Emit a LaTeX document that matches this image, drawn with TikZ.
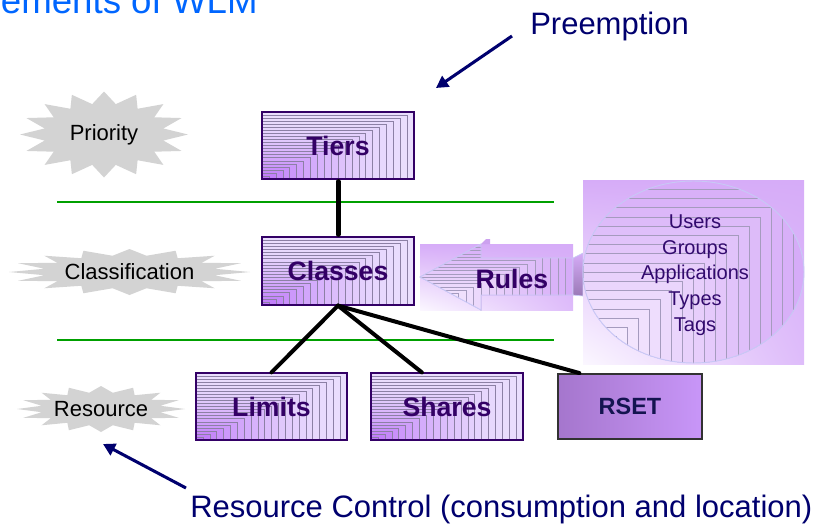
\documentclass[tikz,border=0pt]{standalone}
\usepackage{fontspec}
\setmainfont{Liberation Sans}
\usetikzlibrary{calc,arrows.meta,shadings}

\definecolor{titleblue}{RGB}{0,102,255}
\definecolor{navyink}{RGB}{0,0,110}
\definecolor{burstgray}{RGB}{211,211,211}
\definecolor{sepgreen}{RGB}{0,160,0}
\definecolor{boxedge}{RGB}{51,0,102}
\definecolor{boxtext}{RGB}{51,0,102}
\definecolor{boxlite}{RGB}{234,222,253}
\definecolor{boxdeep}{RGB}{190,120,250}
\definecolor{stepline}{RGB}{140,128,165}
\definecolor{softtop}{RGB}{214,172,248}
\definecolor{softlow}{RGB}{251,247,255}
\definecolor{softright}{RGB}{222,188,250}
\definecolor{softline}{RGB}{165,155,190}
\definecolor{lavline}{RGB}{200,200,245}
\definecolor{rsetA}{RGB}{165,118,205}
\definecolor{rsetB}{RGB}{200,150,248}
\definecolor{rsetedge}{RGB}{50,50,50}
\definecolor{rsettext}{RGB}{20,20,80}
\definecolor{attrtext}{RGB}{50,10,110}

% jagged callout shape around a centre, given half width and half height
\newcommand\drawburst[3]{%
  \fill[burstfill, shift={#1}] plot[samples at={0,...,31}, variable=\k]
    ({(mod(\k,2)==0 ? 1 : 0.72)*#2*cos(\k*11.25)},
     {(mod(\k,2)==0 ? 1 : 0.72)*#3*sin(\k*11.25)}) -- cycle;}

% stepped corner gradient: nested rectangles sharing the lower left corner
\newcommand\softsteps[4]{%
  \foreach \i in {0,...,19}{%
    \pgfmathsetmacro\fr{1-\i/20}%
    \pgfmathtruncatemacro\pc{100-\i*5}%
    \path[fill=softtop!\pc!softlow, draw=softline, line width=0.3pt]
      (#1,#2) rectangle ({#1+#3*\fr},{#2-#4*\fr});
  }}

\begin{document}
\begin{tikzpicture}[x=0.75pt,y=-0.75pt,
  burstfill/.style={fill=burstgray},
  burstlabel/.style={font=\fontsize{16.5}{19}\selectfont, text=black, inner sep=0pt},
  sepline/.style={draw=sepgreen, line width=1.5pt},
  wbox/.style={rectangle, draw=boxedge, line width=0.9pt, inner sep=0pt,
    text=boxtext, font=\fontsize{20}{24}\selectfont\bfseries,
    path picture={
      \foreach \i in {0,...,21}{
        \pgfmathtruncatemacro\pc{100-100*(\i/21)^1.8}
        \pgfmathsetmacro\fr{1-\i/22}
        \path[fill=boxlite!\pc!boxdeep, draw=stepline, line width=0.3pt]
          (path picture bounding box.south west) rectangle
          ($(path picture bounding box.south west)!\fr!(path picture bounding box.north east)$);
      }}},
  link/.style={draw=black, line width=3pt, line cap=round},
  pointer/.style={draw=navyink, line width=2.3pt, -{Triangle[length=9pt,width=9.5pt]}},
  callout/.style={text=navyink, font=\fontsize{23.25}{28}\selectfont, anchor=base west, inner sep=0pt}]

\useasboundingbox (0,0) rectangle (833,525);
\clip (0,0) rectangle (833,525);

% heading
\node[anchor=base west, inner sep=0pt, text=titleblue,
      font=\fontsize{27.5}{32}\selectfont] (title) at (-32,13) {Elements of WLM};

% layer separators
\draw[sepline] (57,202) -- (554,202);
\draw[sepline] (57,340) -- (554,340);

% layer callouts
\coordinate (prioC) at (104,134.5);
\coordinate (clasC) at (129.5,272);
\coordinate (resoC) at (101,409);
\drawburst{(prioC)}{84}{43}
\drawburst{(clasC)}{120.5}{23}
\drawburst{(resoC)}{84}{23}
\node[burstlabel] (prio) at (prioC) {Priority};
\node[burstlabel] (clas) at (clasC) {Classification};
\node[burstlabel] (reso) at (resoC) {Resource};

% rules arrow
\shade[upper left=softtop, upper right=softtop, lower left=softlow, lower right=softright]
  (420,244) rectangle (573,310);
\begin{scope}
  \clip (420,277) -- (481,244) -- (481,258) -- (573,258) -- (573,295)
        -- (481,295) -- (481,310) -- cycle;
  \softsteps{420}{310}{153}{66}
\end{scope}
\draw[lavline, line width=0.7pt] (420,277) -- (481,244) -- (481,258) -- (573,258)
  -- (573,295) -- (481,295) -- (481,310) -- cycle;
\shade[top color=softtop, bottom color=rsetA!70!gray, draw=lavline, line width=0.5pt]
  (573,258) -- (583,253) -- (583,296) -- (573,295) -- cycle;
\fill[softtop!80!rsetA] (481,244) -- (486,239) -- (490,239) -- (490,244) -- cycle;
\node[font=\fontsize{20}{24}\selectfont\bfseries, text=boxtext, inner sep=0pt]
  (rules) at (512,279) {Rules};

% rule attributes
\shade[upper left=softtop, upper right=softtop, lower left=softlow, lower right=softright]
  (583,180) rectangle (804,364);
\begin{scope}
  \clip (693.5,272) ellipse [x radius=110.5, y radius=91];
  \softsteps{583}{364}{221}{184}
\end{scope}
\draw[lavline, line width=0.7pt] (693.5,272) ellipse [x radius=110.5, y radius=91];
\node[align=center, text=attrtext, inner sep=0pt,
      font=\fontsize{15}{19.2}\selectfont] (attrs) at (695,275)
  {Users\\Groups\\Applications\\Types\\Tags};

% hierarchy boxes
\node[wbox, minimum width=114pt, minimum height=50.25pt] (tiers) at (338,145.5) {Tiers};
\node[wbox, minimum width=114pt, minimum height=51pt] (classes) at (338,271) {Classes};
\node[wbox, minimum width=113.25pt, minimum height=50.25pt] (limits) at (271.5,406.5) {Limits};
\node[wbox, minimum width=114pt, minimum height=50.25pt] (shares) at (447,406.5) {Shares};
\node[rectangle, left color=rsetA, right color=rsetB, draw=rsetedge, line width=1.4pt,
      minimum width=108pt, minimum height=48.75pt, inner sep=0pt, text=rsettext,
      font=\fontsize{17.6}{21}\selectfont\bfseries] (rset) at (630,406.5) {RSET};

% connectors
\draw[link, line width=3.75pt, shorten <=1.5pt, shorten >=1.5pt] (tiers) -- (classes);
\draw[link] (classes.south) -- (limits.north);
\draw[link] (classes.south) -- ($(shares.north west)!0.336!(shares.north east)$);
\draw[link] (classes.south) -- ($(rset.north west)!0.153!(rset.north east)$);

% annotations
\node[callout] (preempt) at (530,34) {Preemption};
\coordinate (preTail) at (512,36);
\coordinate (preTip) at (436,88);
\draw[pointer] (preTail) -- (preTip);

\node[callout] (resctl) at (190,517) {Resource Control (consumption and location)};
\coordinate (resTail) at (186,488);
\coordinate (resTip) at (103,444);
\draw[pointer] (resTail) -- (resTip);

\end{tikzpicture}
\end{document}
